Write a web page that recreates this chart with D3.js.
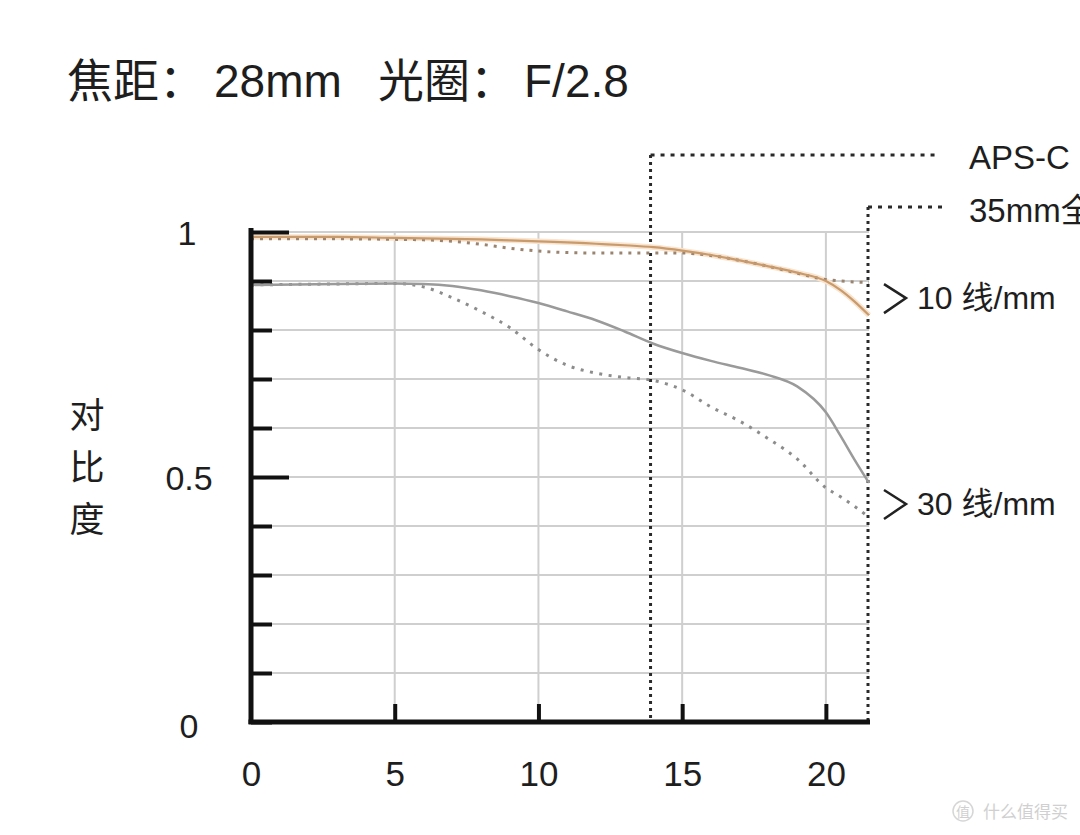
<!DOCTYPE html>
<html><head><meta charset="utf-8">
<script src="https://cdn.jsdelivr.net/npm/d3@7"></script>
<style>
html,body{margin:0;padding:0;background:#fff;overflow:hidden;}
text{font-family:"Liberation Sans","Noto Sans CJK SC",sans-serif;}
</style></head>
<body><svg id="chart" width="1080" height="835"></svg>
<script>
const titleParts = [{t:"焦距：", x:67}, {t:"28mm", x:214}, {t:"光圈：", x:378}, {t:"F/2.8", x:524}];
const yTitle = ["对","比","度"];
const xTicks = [0, 5, 10, 15, 20];
const yTicks = [0, 0.1, 0.2, 0.3, 0.4, 0.5, 0.6, 0.7, 0.8, 0.9, 1];
const yLabels = [0, 0.5, 1];
const apsc = 13.9, fullFrame = 21.5;
const field = [0, 3, 5, 6, 7, 8, 9, 10, 11, 12, 13, 14, 15, 16, 17, 18, 19, 20, 20.5, 21, 21.5];
const sag10 = [0.99, 0.99, 0.988, 0.987, 0.986, 0.985, 0.983, 0.981, 0.979, 0.976, 0.973, 0.969, 0.962, 0.953, 0.942, 0.93, 0.917, 0.9, 0.882, 0.858, 0.83];
const mer10 = [0.986, 0.986, 0.985, 0.984, 0.981, 0.975, 0.967, 0.961, 0.958, 0.957, 0.957, 0.957, 0.957, 0.952, 0.942, 0.93, 0.916, 0.903, 0.9, 0.898, 0.897];
const sag30 = [0.892, 0.894, 0.895, 0.894, 0.89, 0.881, 0.869, 0.855, 0.838, 0.82, 0.797, 0.772, 0.753, 0.737, 0.723, 0.708, 0.685, 0.632, 0.585, 0.535, 0.488];
const mer30 = [0.892, 0.894, 0.895, 0.888, 0.866, 0.838, 0.805, 0.76, 0.728, 0.712, 0.703, 0.697, 0.678, 0.643, 0.614, 0.578, 0.537, 0.478, 0.46, 0.44, 0.418];
const lineLabels = [{t:"10 线/mm", v:0.865}, {t:"30 线/mm", v:0.445}];
const sensorLabels = ["APS-C", "35mm全画幅"];

const svg = d3.select("#chart");
const x = d3.scaleLinear().domain([0, 21.5]).range([251, 869]);
const y = d3.scaleLinear().domain([0, 1]).range([722, 232]);

// title
svg.selectAll(".title").data(titleParts).join("text").attr("x", d => d.x).attr("y", 97)
  .attr("font-size", 46).attr("fill", "#1e1e1e").text(d => d.t);

// grid
const g = svg.append("g");
g.selectAll(".hg").data(yTicks.filter(d => d > 0)).join("line")
  .attr("x1", x(0)).attr("x2", x(21.5)).attr("y1", d => y(d)).attr("y2", d => y(d))
  .attr("stroke", "#cfcfcf").attr("stroke-width", 2);
g.selectAll(".vg").data(xTicks.filter(d => d > 0)).join("line")
  .attr("x1", d => x(d)).attr("x2", d => x(d)).attr("y1", y(1)).attr("y2", y(0))
  .attr("stroke", "#cfcfcf").attr("stroke-width", 2);

// sensor boundaries
const dk = "#2a2a2a";
svg.append("line").attr("x1", x(apsc)).attr("x2", x(apsc)).attr("y1", 155).attr("y2", y(0))
  .attr("stroke", dk).attr("stroke-width", 3).attr("stroke-dasharray", "3,4");
svg.append("line").attr("x1", x(apsc)).attr("x2", 935).attr("y1", 155).attr("y2", 155)
  .attr("stroke", dk).attr("stroke-width", 3).attr("stroke-dasharray", "4,6");
svg.append("line").attr("x1", x(fullFrame)-1).attr("x2", x(fullFrame)-1).attr("y1", 207).attr("y2", y(0))
  .attr("stroke", dk).attr("stroke-width", 3).attr("stroke-dasharray", "3,4");
svg.append("line").attr("x1", x(fullFrame)-1).attr("x2", 945).attr("y1", 207).attr("y2", 207)
  .attr("stroke", dk).attr("stroke-width", 3).attr("stroke-dasharray", "4,6");
svg.append("text").attr("x", 969).attr("y", 169).attr("font-size", 33).attr("fill", "#1e1e1e").text(sensorLabels[0]);
svg.append("text").attr("x", 969).attr("y", 222).attr("font-size", 33).attr("fill", "#1e1e1e").text(sensorLabels[1]);

// curves
const line = d3.line().x(d => x(d[0])).y(d => y(d[1])).curve(d3.curveMonotoneX);
const pts = arr => field.map((f, i) => [f, arr[i]]);
svg.append("path").attr("d", line(pts(sag10))).attr("fill", "none").attr("stroke", "#f8e4cf").attr("stroke-width", 5.5);
svg.append("path").attr("d", line(pts(mer10))).attr("fill", "none").attr("stroke", "#9a8470").attr("stroke-width", 3).attr("stroke-dasharray", "3,6");
svg.append("path").attr("d", line(pts(sag10))).attr("fill", "none").attr("stroke", "#c99a6c").attr("stroke-width", 2.2);
svg.append("path").attr("d", line(pts(mer30))).attr("fill", "none").attr("stroke", "#8c8c8c").attr("stroke-width", 3).attr("stroke-dasharray", "3,6.5");
svg.append("path").attr("d", line(pts(sag30))).attr("fill", "none").attr("stroke", "#9a9a9a").attr("stroke-width", 2.5);

// axes
const yAxis = d3.axisLeft(y).tickValues(yTicks).tickSize(-20).tickFormat(d => yLabels.includes(d) ? d3.format("~g")(d) : "");
const ya = svg.append("g").attr("transform", `translate(${x(0)},0)`).call(yAxis);
ya.select(".domain").remove();
ya.selectAll(".tick line").attr("stroke", "#111").attr("stroke-width", 4)
  .attr("x2", d => (d === 0.5 || d === 1) ? 38 : 21);
ya.selectAll(".tick text").attr("x", -62).attr("text-anchor", "middle").attr("dy", "0.36em")
  .attr("font-size", 34).attr("fill", "#1e1e1e").style("font-family", "Liberation Sans, sans-serif");
ya.selectAll(".tick").filter(d => d === 0).select("text").attr("dy", "0.45em");
ya.selectAll(".tick").filter(d => d === 1).select("text").attr("x", -64);

const xAxis = d3.axisBottom(x).tickValues(xTicks).tickSize(-18).tickFormat(d3.format("d"));
const xa = svg.append("g").attr("transform", `translate(0,${y(0)})`).call(xAxis);
xa.select(".domain").remove();
xa.selectAll(".tick line").attr("stroke", "#111").attr("stroke-width", 4).filter(d => d === 0).remove();
xa.selectAll(".tick text").attr("y", 64).attr("dy", 0).attr("font-size", 35).attr("fill", "#1e1e1e")
  .style("font-family", "Liberation Sans, sans-serif");

svg.append("line").attr("x1", x(0)).attr("x2", x(0)).attr("y1", y(1) - 4).attr("y2", y(0) + 2).attr("stroke", "#111").attr("stroke-width", 5);
svg.append("line").attr("x1", x(0) - 2.5).attr("x2", x(21.5) + 1).attr("y1", y(0)).attr("y2", y(0)).attr("stroke", "#111").attr("stroke-width", 5);

// y title
svg.selectAll(".yt").data(yTitle).join("text").attr("x", 87).attr("y", (d, i) => 428 + i * 52)
  .attr("text-anchor", "middle").attr("font-size", 35).attr("fill", "#1e1e1e").text(d => d);

// line labels with chevrons
lineLabels.forEach(l => {
  const cy = y(l.v);
  svg.append("path").attr("d", `M884,${cy-14} L906,${cy} L884,${cy+15}`).attr("fill", "none").attr("stroke", "#222").attr("stroke-width", 2.5);
  svg.append("text").attr("x", 917).attr("y", cy + 11).attr("font-size", 32).attr("fill", "#1e1e1e").text(l.t);
});

// watermark
svg.append("circle").attr("cx", 963).attr("cy", 811).attr("r", 10).attr("fill", "none").attr("stroke", "#d6d6d6").attr("stroke-width", 1.5);
svg.append("text").attr("x", 963).attr("y", 817).attr("text-anchor", "middle").attr("font-size", 14).attr("fill", "#d0d0d0").text("值");
svg.append("text").attr("x", 983).attr("y", 818).attr("font-size", 17).attr("fill", "#d0d0d0").text("什么值得买");
</script></body></html>
